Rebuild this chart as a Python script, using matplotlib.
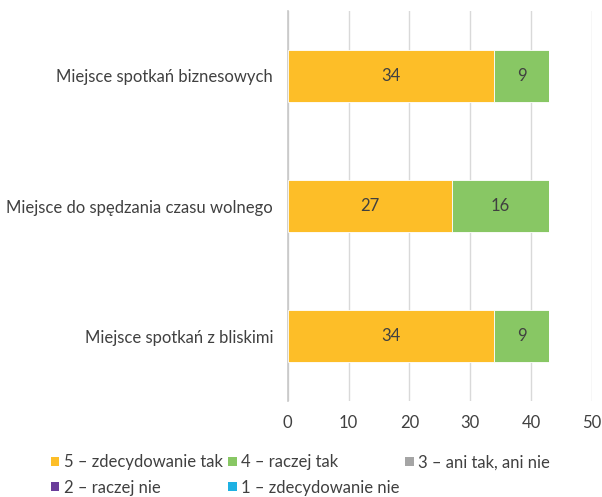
import matplotlib.pyplot as plt
from matplotlib.patches import Patch
import numpy as np

plt.rcParams['font.family'] = ['Lato', 'DejaVu Sans']

categories = ['Miejsce spotkań biznesowych', 'Miejsce do spędzania czasu wolnego', 'Miejsce spotkań z bliskimi']
series_names = ['5 – zdecydowanie tak', '4 – raczej tak', '3 – ani tak, ani nie', '2 – raczej nie', '1 – zdecydowanie nie']
v5 = [34, 27, 34]
v4 = [9, 16, 9]
v3 = [0, 0, 0]
v2 = [0, 0, 0]
v1 = [0, 0, 0]
colors = ['#FDBE28', '#88C764', '#A5A5A5', '#6A3D9A', '#1EB1E3']
xticks = [0, 10, 20, 30, 40, 50]

fig = plt.figure(figsize=(6.02, 4.97), dpi=100)
ax = fig.add_axes([0.478, 0.193, 0.505, 0.785])

y = np.arange(len(categories))
left = np.zeros(len(categories))
for vals, col in zip([v5, v4, v3, v2, v1], colors):
    vals = np.array(vals, dtype=float)
    bars = ax.barh(y, vals, left=left, height=0.4, color=col, edgecolor='white', linewidth=0.6, zorder=3)
    for b, v in zip(bars, vals):
        if v > 0:
            ax.text(b.get_x() + b.get_width() / 2, b.get_y() + b.get_height() / 2, f'{int(v)}',
                    ha='center', va='center', fontsize=12, color='#404040', zorder=4)
    left += vals

ax.set_ylim(2.5, -0.5)
ax.set_xlim(0, 50)
ax.set_xticks(xticks)
ax.set_yticks(y)
ax.set_yticklabels(categories)
ax.tick_params(axis='both', length=0, labelsize=12, colors='#404040')
ax.tick_params(axis='x', pad=10)
ax.tick_params(axis='y', pad=10.5)
ax.grid(axis='x', color='#D9D9D9', linewidth=1, zorder=0)
for s in ['top', 'right', 'bottom']:
    ax.spines[s].set_visible(False)
ax.spines['left'].set_color('#C8C8C8')
ax.spines['left'].set_linewidth(1.2)

# legend rows are filled left to right, so reorder for matplotlib's column-first filling
handles = [Patch(facecolor=c) for c in colors]
order = [0, 3, 1, 4, 2]
fig.legend([handles[i] for i in order], [series_names[i] for i in order],
           loc='center left', bbox_to_anchor=(51 / 602, 0.0443), ncol=3, frameon=False,
           fontsize=12, handlelength=0.5, handleheight=0.5, handletextpad=0.25,
           columnspacing=0.36, labelspacing=0.55, labelcolor='#404040',
           borderpad=0, borderaxespad=0)

fig.savefig('out.png', dpi=100)
